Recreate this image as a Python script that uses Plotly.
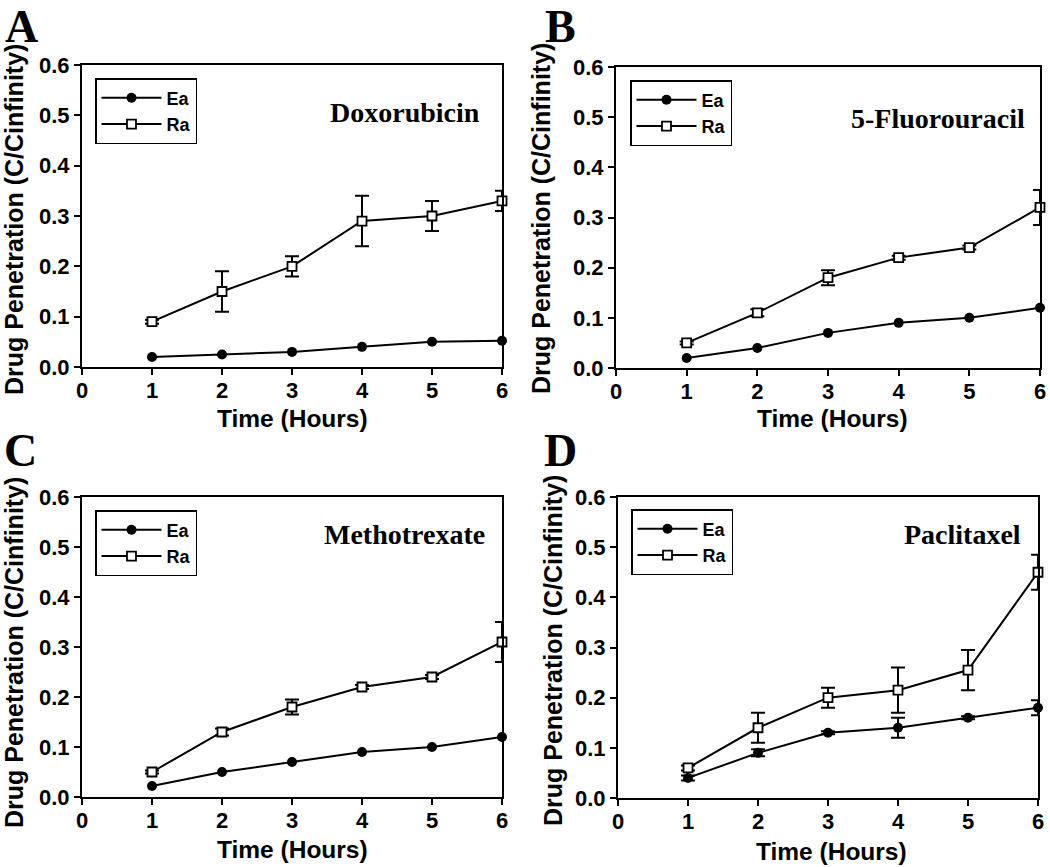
import plotly.graph_objects as go

hours = [1, 2, 3, 4, 5, 6]
drugs = ["Doxorubicin", "5-Fluorouracil", "Methotrexate", "Paclitaxel"]
panel_letters = ["A", "B", "C", "D"]
series_names = ["Ea", "Ra"]
y_ticks = [0.0, 0.1, 0.2, 0.3, 0.4, 0.5, 0.6]
x_ticks = [0, 1, 2, 3, 4, 5, 6]
x_title = "Time (Hours)"
y_title = "Drug Penetration (C/Cinfinity)"

# A - Doxorubicin
ea_dox = [0.020, 0.025, 0.030, 0.040, 0.050, 0.052]
ea_dox_err = [0, 0, 0, 0, 0, 0]
ra_dox = [0.09, 0.15, 0.20, 0.29, 0.30, 0.33]
ra_dox_err = [0.004, 0.04, 0.02, 0.05, 0.03, 0.02]

# B - 5-Fluorouracil
ea_fu = [0.02, 0.04, 0.07, 0.09, 0.10, 0.12]
ea_fu_err = [0, 0, 0, 0, 0, 0]
ra_fu = [0.05, 0.11, 0.18, 0.22, 0.24, 0.32]
ra_fu_err = [0.003, 0.007, 0.015, 0.004, 0.004, 0.035]

# C - Methotrexate
ea_mtx = [0.022, 0.05, 0.07, 0.09, 0.10, 0.12]
ea_mtx_err = [0, 0, 0, 0, 0, 0]
ra_mtx = [0.05, 0.13, 0.18, 0.22, 0.24, 0.31]
ra_mtx_err = [0.003, 0.007, 0.015, 0.004, 0.004, 0.04]

# D - Paclitaxel
ea_ptx = [0.04, 0.09, 0.13, 0.14, 0.16, 0.18]
ea_ptx_err = [0.005, 0.007, 0.003, 0.02, 0.003, 0.015]
ra_ptx = [0.06, 0.14, 0.20, 0.215, 0.255, 0.45]
ra_ptx_err = [0.005, 0.03, 0.02, 0.045, 0.04, 0.035]

panels = [
    (ea_dox, ea_dox_err, ra_dox, ra_dox_err),
    (ea_fu, ea_fu_err, ra_fu, ra_fu_err),
    (ea_mtx, ea_mtx_err, ra_mtx, ra_mtx_err),
    (ea_ptx, ea_ptx_err, ra_ptx, ra_ptx_err),
]

W, H = 1050, 867
# plot areas in pixels (left, right, top, bottom)
areas = [(82, 502, 65, 367), (616, 1040, 67, 368), (82, 502, 497, 797), (618, 1038, 497, 798)]
legend_pos = [(95, 78), (630, 80), (95, 510), (631, 509)]
letter_pos = [(21, 0), (560, 0), (20, 424), (560, 424)]
drug_pos = [(5.72, 0.505), (5.82, 0.498), (5.79, 0.526), (5.79, 0.526)]
xtitle_pos = [(292, 418), (832, 418), (292, 849), (831, 851)]
ytitle_pos = [(14, 220), (541, 219), (14, 653), (553, 651)]

FONT = "Liberation Sans"
SERIF = "Liberation Serif"

fig = go.Figure()
layout = dict(
    width=W, height=H,
    margin=dict(l=0, r=0, t=0, b=0, autoexpand=False),
    paper_bgcolor="white", plot_bgcolor="white",
    showlegend=True,
    annotations=[],
)

for i, (ea, ea_err, ra, ra_err) in enumerate(panels):
    n = "" if i == 0 else str(i + 1)
    xa, ya = "x" + n, "y" + n
    leg = "legend" + n
    ea_vis = any(v > 0 for v in ea_err)
    fig.add_trace(go.Scatter(
        x=hours, y=ea, name=series_names[0], xaxis=xa, yaxis=ya, legend=leg,
        mode="lines+markers", cliponaxis=False,
        line=dict(color="black", width=2),
        marker=dict(symbol="circle", size=10, color="black"),
        error_y=dict(type="data", array=ea_err, visible=ea_vis, color="black", thickness=2, width=7),
    ))
    fig.add_trace(go.Scatter(
        x=hours, y=ra, name=series_names[1], xaxis=xa, yaxis=ya, legend=leg,
        mode="lines+markers", cliponaxis=False,
        line=dict(color="black", width=2),
        marker=dict(symbol="square", size=9, color="white", line=dict(color="black", width=1.8)),
        error_y=dict(type="data", array=ra_err, visible=True, color="black", thickness=2, width=7),
    ))
    l, r, t, b = areas[i]
    axis_common = dict(
        showline=True, linecolor="black", linewidth=2, mirror=True,
        ticks="outside", ticklen=6, tickwidth=2, tickcolor="black",
        showgrid=False, zeroline=False, automargin=False,
        tickfont=dict(family=FONT, size=22, color="black", weight="bold"),
    )
    layout["xaxis" + n] = dict(
        axis_common, domain=[l / W, r / W], anchor=ya, range=[0, 6],
        tickmode="array", tickvals=x_ticks, ticklabelstandoff=-3,
    )
    layout["yaxis" + n] = dict(
        axis_common, domain=[1 - b / H, 1 - t / H], anchor=xa, range=[0, 0.6],
        tickmode="array", tickvals=y_ticks, tickformat=".1f",
    )
    lx, ly = legend_pos[i]
    layout[leg] = dict(
        x=lx / W, y=1 - ly / H, xanchor="left", yanchor="top",
        bgcolor="white", bordercolor="black", borderwidth=1.5,
        font=dict(family=FONT, size=18, color="black", weight="bold"),
        itemwidth=60, tracegroupgap=0, entrywidth=105, entrywidthmode="pixels",
    )
    dx, dy = drug_pos[i]
    layout["annotations"].append(dict(
        x=dx, y=dy, xref=xa, yref=ya, text=drugs[i], showarrow=False,
        xanchor="right", yanchor="middle",
        font=dict(family=SERIF, size=28, color="black", weight="bold"),
    ))
    px_, py_ = letter_pos[i]
    layout["annotations"].append(dict(
        x=px_ / W, y=1 - py_ / H, xref="paper", yref="paper", text=panel_letters[i],
        showarrow=False, xanchor="center", yanchor="top", borderpad=0,
        font=dict(family=SERIF, size=46, color="black", weight="bold"),
    ))
    tx, ty = xtitle_pos[i]
    layout["annotations"].append(dict(
        x=tx / W, y=1 - ty / H, xref="paper", yref="paper", text=x_title,
        showarrow=False, xanchor="center", yanchor="middle",
        font=dict(family=FONT, size=24.5, color="black", weight="bold"),
    ))
    vx, vy = ytitle_pos[i]
    layout["annotations"].append(dict(
        x=vx / W, y=1 - vy / H, xref="paper", yref="paper", text=y_title,
        showarrow=False, xanchor="center", yanchor="middle", textangle=-90,
        font=dict(family=FONT, size=25, color="black", weight="bold"),
    ))

fig.update_layout(**layout)
fig.write_html("out.html", config={"displayModeBar": False},
               post_script="document.body.style.margin='0px';")
